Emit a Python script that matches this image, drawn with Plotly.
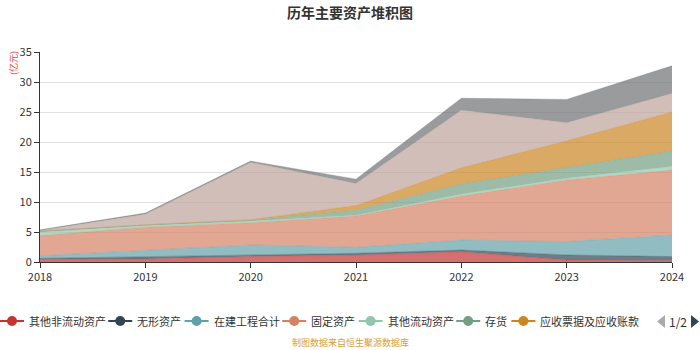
import plotly.graph_objects as go

years = [2018, 2019, 2020, 2021, 2022, 2023, 2024]
series_names = ["其他非流动资产", "无形资产", "在建工程合计", "固定资产", "其他流动资产",
                "存货", "应收票据及应收账款", "货币资金", "交易性金融资产"]
other_noncurrent = [0.5, 0.5, 0.9, 1.15, 1.7, 0.33, 0.2]
intangible = [0.1, 0.4, 0.25, 0.3, 0.3, 0.84, 0.7]
cip = [0.45, 1.0, 1.7, 1.0, 1.67, 2.23, 3.6]
fixed_assets = [3.35, 3.9, 3.7, 5.2, 7.33, 10.27, 10.83]
other_current = [0.55, 0.25, 0.25, 0.15, 0.3, 0.28, 0.57]
inventory = [0.2, 0.15, 0.2, 0.85, 1.7, 1.85, 2.6]
receivables = [0.0, 0.0, 0.05, 0.75, 2.7, 4.4, 6.5]
cash = [0.1, 1.75, 9.55, 3.7, 9.6, 3.0, 3.1]
trading_assets = [0.12, 0.2, 0.22, 0.7, 2.0, 3.9, 4.6]
series_values = [other_noncurrent, intangible, cip, fixed_assets, other_current,
                 inventory, receivables, cash, trading_assets]
colors = ["#c23531", "#2f4554", "#61a0a8", "#d48265", "#91c7ae",
          "#749f83", "#ca8622", "#bda29a", "#6e7074"]
legend_page1 = 7


def rgba(hexc, a):
    h = hexc.lstrip("#")
    r, g, b = int(h[0:2], 16), int(h[2:4], 16), int(h[4:6], 16)
    return f"rgba({r},{g},{b},{a})"


fig = go.Figure()
for name, vals, col in zip(series_names, series_values, colors):
    fig.add_trace(go.Scatter(
        x=years, y=vals, name=name, stackgroup="one", mode="lines",
        line=dict(width=0.6, color=rgba(col, 0.5)), fillcolor=rgba(col, 0.7),
        showlegend=False))

FONT = "Noto Sans CJK SC"
L, R, T, B = 40, 28, 52, 88
W, H = 700, 350
pw, ph = W - L - R, H - T - B


def px2x(px):
    return (px - L) / pw


def py2y(py):
    return (H - B - py) / ph


shapes = []
annotations = []
# manual legend (page 1)
start = 0
ly = 321
for i in range(legend_page1):
    col = colors[i]
    shapes.append(dict(type="line", xref="paper", yref="paper",
                       x0=px2x(start), x1=px2x(start + 24), y0=py2y(ly), y1=py2y(ly),
                       line=dict(color=col, width=2)))
    cx = start + 12
    shapes.append(dict(type="circle", xref="paper", yref="paper",
                       x0=px2x(cx - 5), x1=px2x(cx + 5), y0=py2y(ly + 5), y1=py2y(ly - 5),
                       fillcolor=col, line=dict(color=col, width=0)))
    annotations.append(dict(xref="paper", yref="paper", x=px2x(start + 27), y=py2y(ly),
                            xanchor="left", yanchor="middle", showarrow=False,
                            text=series_names[i], font=dict(family=FONT, size=11, color="#333")))
    start = start + 27 + 10.6 * len(series_names[i]) + 7

# pager
shapes.append(dict(type="path", xref="paper", yref="paper",
                   path=f"M {px2x(665)} {py2y(315)} L {px2x(665)} {py2y(328)} L {px2x(657)} {py2y(321.5)} Z",
                   fillcolor="#aaaaaa", line=dict(width=0)))
shapes.append(dict(type="path", xref="paper", yref="paper",
                   path=f"M {px2x(691)} {py2y(315)} L {px2x(691)} {py2y(328)} L {px2x(699)} {py2y(321.5)} Z",
                   fillcolor="#2f4554", line=dict(width=0)))
annotations.append(dict(xref="paper", yref="paper", x=px2x(678), y=py2y(321),
                        xanchor="center", yanchor="middle", showarrow=False,
                        text="1/2", font=dict(family=FONT, size=12, color="#333")))

annotations.append(dict(xref="paper", yref="paper", x=px2x(350), y=py2y(12),
                        xanchor="center", yanchor="middle", showarrow=False,
                        text="<b>历年主要资产堆积图</b>", font=dict(family=FONT, size=14, color="#333")))
annotations.append(dict(xref="paper", yref="paper", x=px2x(13), y=py2y(63),
                        xanchor="center", yanchor="middle", showarrow=False, textangle=-90,
                        text="(亿元)", font=dict(family=FONT, size=9, color="#e83f3f")))
annotations.append(dict(xref="paper", yref="paper", x=px2x(350), y=py2y(342),
                        xanchor="center", yanchor="middle", showarrow=False,
                        text="制图数据来自恒生聚源数据库", font=dict(family=FONT, size=9, color="#d4a03c")))

fig.update_layout(
    width=W, height=H, margin=dict(l=L, r=R, t=T, b=B),
    paper_bgcolor="white", plot_bgcolor="white",
    font=dict(family=FONT, size=11, color="#333"),
    showlegend=False, shapes=shapes, annotations=annotations,
    xaxis=dict(range=[2018, 2024], tickmode="array", tickvals=years,
               ticktext=[str(y) for y in years], showgrid=False,
               showline=True, linecolor="#333", linewidth=1,
               ticks="outside", ticklen=5, tickcolor="#333",
               tickfont=dict(size=11, color="#333"), zeroline=False),
    yaxis=dict(range=[0, 35], dtick=5, showgrid=True, gridcolor="#e0e0e0", gridwidth=1,
               showline=True, linecolor="#333", linewidth=1,
               ticks="outside", ticklen=5, tickcolor="#333",
               tickfont=dict(size=11, color="#333"), zeroline=False),
)

fig.write_html("out.html")
